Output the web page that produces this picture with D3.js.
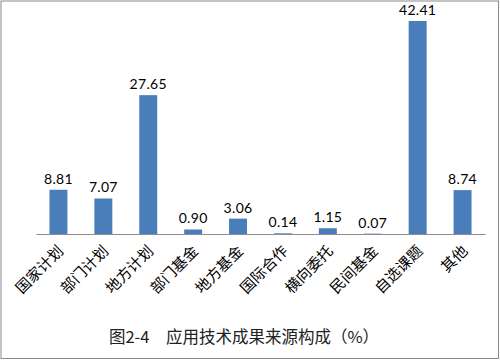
<!DOCTYPE html>
<html><head><meta charset="utf-8">
<script src="https://cdn.jsdelivr.net/npm/d3@7"></script>
<style>body{margin:0;background:#fff}svg{display:block}</style>
</head><body>
<script>
const categories = ["国家计划","部门计划","地方计划","部门基金","地方基金","国际合作","横向委托","民间基金","自选课题","其他"];
const values = [8.81, 7.07, 27.65, 0.90, 3.06, 0.14, 1.15, 0.07, 42.41, 8.74];
const labels = ["8.81","7.07","27.65","0.90","3.06","0.14","1.15","0.07","42.41","8.74"];
const title = "图2-4　应用技术成果来源构成（%）";

const W = 500, H = 360;
const svg = d3.select("body").append("svg").attr("width", W).attr("height", H);
svg.append("rect").attr("x",1).attr("y",1).attr("width",W-2.5).attr("height",H-2.5)
  .attr("fill","#fff").attr("stroke","#8a8a8a").attr("stroke-width",1);

const x = d3.scaleBand().domain(categories).range([36, 485]).paddingInner(0.6).paddingOuter(0.3);
const y = d3.scaleLinear().domain([0, 45]).range([234, 8]);

svg.selectAll("rect.bar").data(values).join("rect").attr("class","bar")
  .attr("x",(d,i)=>x(categories[i])).attr("width",x.bandwidth())
  .attr("y",d=>y(d)).attr("height",d=>y(0)-y(d)).attr("fill","#4a7ebb");

svg.selectAll("text.val").data(values).join("text").attr("class","val")
  .attr("x",(d,i)=>x(categories[i])+x.bandwidth()/2).attr("y",d=>y(d)-6)
  .attr("text-anchor","middle").attr("font-family","Lato, 'Open Sans', sans-serif")
  .attr("font-size",14).attr("letter-spacing",0.3).attr("fill","#000").text((d,i)=>labels[i]);

const ax = svg.append("g").attr("transform","translate(0,234)")
  .call(d3.axisBottom(x).tickSize(0).tickSizeOuter(0).tickPadding(0));
ax.select(".domain").attr("stroke","#8c8c8c").attr("stroke-width",1.2);
ax.selectAll(".tick text")
  .attr("font-family","'Noto Sans CJK SC', sans-serif").attr("font-size",15).attr("fill","#000")
  .attr("text-anchor","end").attr("dy",0)
  .attr("transform","translate(6,18) rotate(-45)");

svg.append("text").attr("x",244).attr("y",343).attr("text-anchor","middle")
  .attr("font-family","'Noto Sans CJK SC', sans-serif").attr("font-size",16.5).attr("fill","#222")
  .attr("xml:space","preserve")
  .text(title);
</script>
</body></html>
